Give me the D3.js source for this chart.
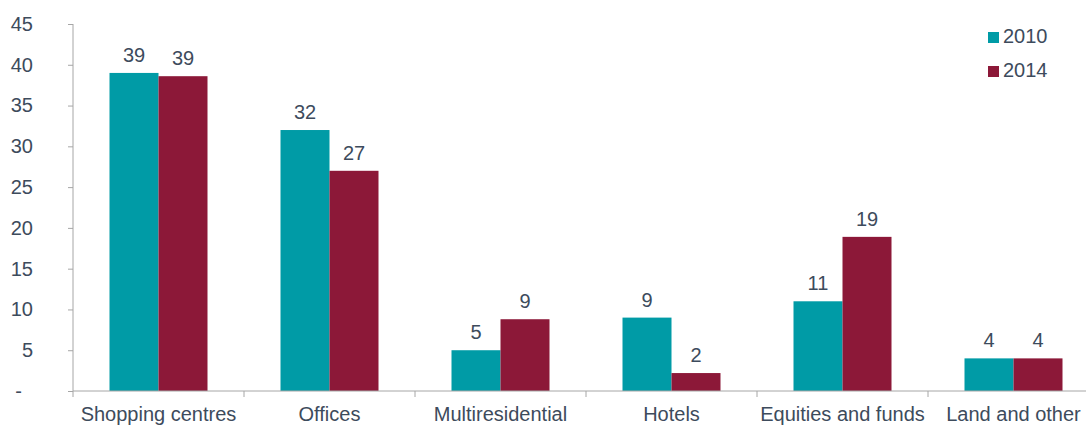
<!DOCTYPE html>
<html>
<head>
<meta charset="utf-8">
<script src="https://cdn.jsdelivr.net/npm/d3@7"></script>
<style>
  body { margin: 0; background: #fff; }
  text { font-family: "Liberation Sans", Arial, sans-serif; fill: #3d4b5c; }
</style>
</head>
<body>
<svg id="chart" width="1086" height="425"></svg>
<script>
// data
let categories = ["Shopping centres", "Offices", "Multiresidential", "Hotels", "Equities and funds", "Land and other"];
let years = ["2010", "2014"];
let values2010 = [39, 32, 5, 9, 11, 4];
let values2014 = [38.6, 27, 8.8, 2.2, 18.9, 4];
let yTicks = [0, 5, 10, 15, 20, 25, 30, 35, 40, 45];

let colors = ["#009ba6", "#8c1838"];
let fontSize = "20px";

let svg = d3.select("#chart");

let plotLeft = 73, plotBottom = 391, plotTop = 24;
let bandW = 171;

let x = d3.scaleBand()
  .domain(categories)
  .range([plotLeft, plotLeft + bandW * categories.length]);

let sub = d3.scaleBand()
  .domain(years)
  .range([x.bandwidth() / 2 - 49, x.bandwidth() / 2 + 49]);

let y = d3.scaleLinear()
  .domain([0, 45])
  .range([plotBottom, plotTop]);

// y axis
let yAxis = svg.append("g")
  .attr("transform", "translate(" + plotLeft + ",0)")
  .call(d3.axisLeft(y).tickValues(yTicks).tickSize(5).tickPadding(35)
    .tickFormat(function(d) { return d === 0 ? "-" : d; }));
yAxis.selectAll("path, line").attr("stroke", "#a6a6a6");
yAxis.selectAll("text").style("font-size", fontSize).attr("fill", "#3d4b5c");
yAxis.selectAll(".tick text").filter(function(d) { return d === 0; }).attr("dx", "-11");
yAxis.select(".domain").attr("d", "M0," + plotTop + "V" + plotBottom);

// bars
let rows = categories.map(function(c, i) {
  return { cat: c, vals: [values2010[i], values2014[i]] };
});

let groups = svg.selectAll(".grp")
  .data(rows)
  .enter()
  .append("g")
  .attr("class", "grp")
  .attr("transform", function(d) { return "translate(" + x(d.cat) + ",0)"; });

groups.selectAll("rect")
  .data(function(d) { return d.vals.map(function(v, j) { return { year: years[j], v: v, j: j }; }); })
  .enter()
  .append("rect")
  .attr("x", function(d) { return sub(d.year); })
  .attr("width", sub.bandwidth())
  .attr("y", function(d) { return y(d.v); })
  .attr("height", function(d) { return plotBottom - y(d.v); })
  .attr("fill", function(d) { return colors[d.j]; });

groups.selectAll(".val")
  .data(function(d) { return d.vals.map(function(v, j) { return { year: years[j], v: v }; }); })
  .enter()
  .append("text")
  .attr("class", "val")
  .attr("x", function(d) { return sub(d.year) + sub.bandwidth() / 2; })
  .attr("y", function(d) { return y(d.v) - 11; })
  .attr("text-anchor", "middle")
  .style("font-size", fontSize)
  .text(function(d) { return Math.round(d.v); });

// x axis
let xAxisG = svg.append("g").attr("transform", "translate(0," + plotBottom + ")");
xAxisG.append("line")
  .attr("x1", plotLeft).attr("x2", 1086)
  .attr("stroke", "#a6a6a6");
xAxisG.selectAll(".tk")
  .data(categories)
  .enter()
  .append("line")
  .attr("x1", function(d) { return x(d); })
  .attr("x2", function(d) { return x(d); })
  .attr("y1", 0).attr("y2", 6)
  .attr("stroke", "#a6a6a6");
xAxisG.selectAll(".lbl")
  .data(categories)
  .enter()
  .append("text")
  .attr("x", function(d) { return x(d) + x.bandwidth() / 2; })
  .attr("y", 30)
  .attr("text-anchor", "middle")
  .style("font-size", fontSize)
  .text(function(d) { return d; });

// legend
let legend = svg.selectAll(".leg")
  .data(years)
  .enter()
  .append("g")
  .attr("class", "leg")
  .attr("transform", function(d, i) { return "translate(988," + (32 + i * 34) + ")"; });
legend.append("rect")
  .attr("width", 11).attr("height", 11)
  .attr("fill", function(d, i) { return colors[i]; });
legend.append("text")
  .attr("x", 15).attr("y", 11)
  .style("font-size", fontSize)
  .text(function(d) { return d; });
</script>
</body>
</html>
